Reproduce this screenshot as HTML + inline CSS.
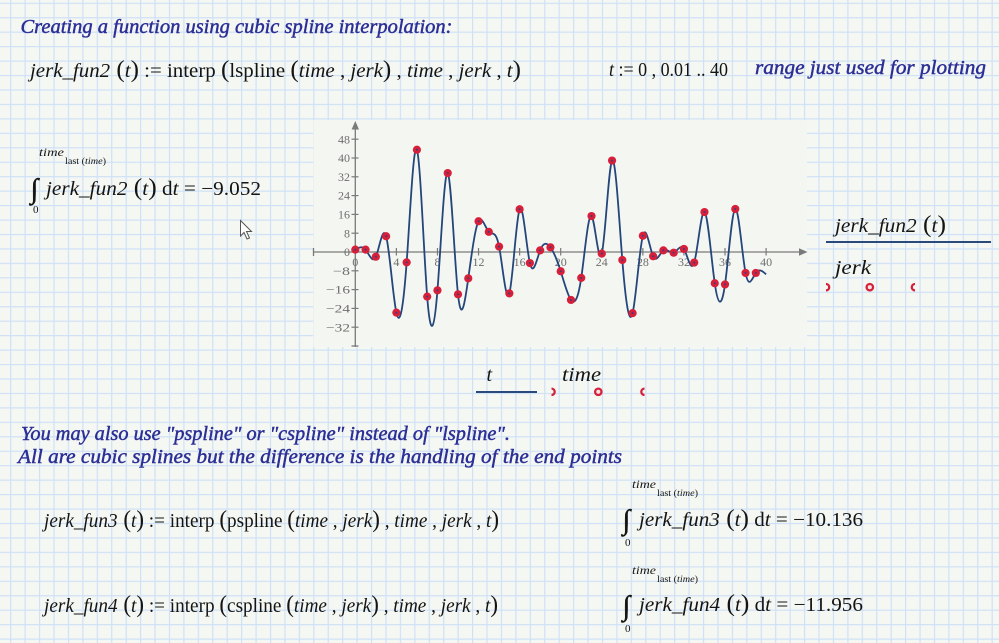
<!DOCTYPE html>
<html><head><meta charset="utf-8"><style>
html,body{margin:0;padding:0;background:#f5f7f3;}
svg{display:block;}
.m{font-family:"Liberation Serif","DejaVu Serif",serif;fill:#141414;}
.h{font-family:"Liberation Serif","DejaVu Serif",serif;font-style:italic;fill:#2b2f96;stroke:#2b2f96;stroke-width:0.45;}
.i{font-style:italic;}
.tk{font-family:"Liberation Serif","DejaVu Serif",serif;font-size:12px;fill:#6e6e6e;}
.int{font-family:"Liberation Serif","DejaVu Serif",serif;fill:#141414;stroke:#141414;stroke-width:0.5;}
</style></head><body>
<svg id="s" width="999" height="643" viewBox="0 0 999 643" xmlns="http://www.w3.org/2000/svg">
<defs>
<pattern id="grid" patternUnits="userSpaceOnUse" x="10.1" y="2.7" width="14.434" height="14.45">
<rect x="0" y="0" width="1.2" height="14.45" fill="#cfe1f6"/>
<rect x="0" y="0" width="14.434" height="1.2" fill="#cfe1f6"/>
</pattern>
</defs>
<rect width="999" height="643" fill="#f5f7f3"/>
<rect width="999" height="643" fill="url(#grid)"/>

<!-- heading -->
<text class="h" x="20.5" y="33" font-size="20" textLength="432" lengthAdjust="spacingAndGlyphs">Creating a function using cubic spline interpolation:</text>

<!-- formula 1 -->
<text class="m" x="30" y="77" font-size="20" textLength="491" lengthAdjust="spacingAndGlyphs"><tspan class="i">jerk_fun2</tspan><tspan font-size="24"> (</tspan><tspan class="i">t</tspan><tspan font-size="24">)</tspan> := interp <tspan font-size="24">(</tspan>lspline <tspan font-size="24">(</tspan><tspan class="i">time</tspan> , <tspan class="i">jerk</tspan><tspan font-size="24">)</tspan> , <tspan class="i">time</tspan> , <tspan class="i">jerk</tspan> , <tspan class="i">t</tspan><tspan font-size="24">)</tspan></text>

<text class="m" x="609" y="76" font-size="20" textLength="119" lengthAdjust="spacingAndGlyphs"><tspan class="i">t</tspan> := 0 , 0.01 .. 40</text>
<text class="h" x="755" y="74" font-size="20" textLength="231" lengthAdjust="spacingAndGlyphs">range just used for plotting</text>

<!-- integral 1 -->
<text class="m" x="39" y="156" font-size="12" font-style="italic" textLength="25" lengthAdjust="spacingAndGlyphs">time</text>
<text class="m" x="65" y="164" font-size="9" textLength="41" lengthAdjust="spacingAndGlyphs">last <tspan>(</tspan><tspan class="i">time</tspan>)</text>
<text class="int" x="30.5" y="198" font-size="28">∫</text>
<text class="m" x="46" y="195" font-size="20" textLength="215" lengthAdjust="spacingAndGlyphs"><tspan class="i">jerk_fun2</tspan><tspan font-size="24"> (</tspan><tspan class="i">t</tspan><tspan font-size="24">)</tspan> d<tspan class="i">t</tspan> = −9.052</text>
<text class="m" x="33" y="213" font-size="11">0</text>

<!-- cursor -->
<path d="M240.5,220.5 L240.5,236 L244,232.5 L247,239 L249.5,238 L246.5,231.5 L251.5,231.5 Z" fill="#fff" stroke="#555" stroke-width="1"/>

<!-- chart -->
<rect x="313.5" y="120" width="493.5" height="227" fill="#f4f6f2"/>
<g id="axes" stroke="#7a7a7a" stroke-width="1.3" fill="none">
<line x1="355.3" y1="128" x2="355.3" y2="347"/>
<line x1="313.5" y1="252" x2="800" y2="252"/>
<line x1="313.5" y1="248" x2="313.5" y2="256"/>
<line x1="351.5" y1="346" x2="358.5" y2="346"/>
</g>
<path d="M355.3,121 L351.6,129.5 L359,129.5 Z" fill="#7a7a7a"/>
<path d="M807.5,252 L799,248.3 L799,255.7 Z" fill="#7a7a7a"/>
<g id="ticks"></g>
<g class="tk" text-anchor="end">
<text x="350" y="143.3">48</text>
<text x="350" y="162.1">40</text>
<text x="350" y="180.9">32</text>
<text x="350" y="199.7">24</text>
<text x="350" y="218.5">16</text>
<text x="350" y="237.3">8</text>
<text x="350" y="256.1">0</text>
<text x="350" y="274.9" textLength="17" lengthAdjust="spacingAndGlyphs">−8</text>
<text x="350" y="293.7" textLength="24" lengthAdjust="spacingAndGlyphs">−16</text>
<text x="350" y="312.5" textLength="24" lengthAdjust="spacingAndGlyphs">−24</text>
<text x="350" y="331.3" textLength="24" lengthAdjust="spacingAndGlyphs">−32</text>
</g>
<g class="tk" text-anchor="middle">
<text x="355.3" y="266">0</text>
<text x="396.4" y="266">4</text>
<text x="437.5" y="266">8</text>
<text x="478.5" y="266">12</text>
<text x="519.6" y="266">16</text>
<text x="560.7" y="266">20</text>
<text x="601.8" y="266">24</text>
<text x="642.9" y="266">28</text>
<text x="684" y="266">32</text>
<text x="725" y="266">36</text>
<text x="766.1" y="266">40</text>
</g>
<path id="curve" d="" fill="none" stroke="#24467a" stroke-width="1.8" stroke-linejoin="round"/>
<g id="marks"></g>

<!-- legend right -->
<text class="m" x="835" y="232" font-size="20" textLength="111" lengthAdjust="spacingAndGlyphs"><tspan class="i">jerk_fun2</tspan><tspan font-size="24"> (</tspan><tspan class="i">t</tspan><tspan font-size="24">)</tspan></text>
<line x1="826" y1="242" x2="991" y2="242" stroke="#2b4a7c" stroke-width="2"/>
<text class="m" x="835" y="274" font-size="20" font-style="italic" textLength="36" lengthAdjust="spacingAndGlyphs">jerk</text>
<g fill="#f5e4e6" stroke="#d6203a" stroke-width="2.3">
<path d="M826,284 A3.2,3.2 0 0 1 826,290.4" fill="none"/>
<circle cx="869.8" cy="287.2" r="3.2"/>
<path d="M915,284 A3.2,3.2 0 0 0 915,290.4" fill="none"/>
</g>

<!-- legend below -->
<text class="m" x="486.5" y="381" font-size="20" font-style="italic">t</text>
<line x1="476" y1="392" x2="537" y2="392" stroke="#2b4a7c" stroke-width="2"/>
<text class="m" x="562" y="381" font-size="20" font-style="italic" textLength="39" lengthAdjust="spacingAndGlyphs">time</text>
<g fill="#f5e4e6" stroke="#d6203a" stroke-width="2.3">
<path d="M551.5,388.6 A3.2,3.2 0 0 1 551.5,395" fill="none"/>
<circle cx="598.3" cy="391.8" r="3.2"/>
<path d="M644.5,388.6 A3.2,3.2 0 0 0 644.5,395" fill="none"/>
</g>

<!-- notes -->
<text class="h" x="21" y="440" font-size="20" textLength="489" lengthAdjust="spacingAndGlyphs">You may also use "pspline" or "cspline" instead of "lspline".</text>
<text class="h" x="18" y="463" font-size="20" textLength="604" lengthAdjust="spacingAndGlyphs">All are cubic splines but the difference is the handling of the end points</text>

<!-- formula 3 -->
<text class="m" x="44" y="527" font-size="20" textLength="455" lengthAdjust="spacingAndGlyphs"><tspan class="i">jerk_fun3</tspan><tspan font-size="24"> (</tspan><tspan class="i">t</tspan><tspan font-size="24">)</tspan> := interp <tspan font-size="24">(</tspan>pspline <tspan font-size="24">(</tspan><tspan class="i">time</tspan> , <tspan class="i">jerk</tspan><tspan font-size="24">)</tspan> , <tspan class="i">time</tspan> , <tspan class="i">jerk</tspan> , <tspan class="i">t</tspan><tspan font-size="24">)</tspan></text>
<!-- formula 4 -->
<text class="m" x="44" y="612" font-size="20" textLength="454" lengthAdjust="spacingAndGlyphs"><tspan class="i">jerk_fun4</tspan><tspan font-size="24"> (</tspan><tspan class="i">t</tspan><tspan font-size="24">)</tspan> := interp <tspan font-size="24">(</tspan>cspline <tspan font-size="24">(</tspan><tspan class="i">time</tspan> , <tspan class="i">jerk</tspan><tspan font-size="24">)</tspan> , <tspan class="i">time</tspan> , <tspan class="i">jerk</tspan> , <tspan class="i">t</tspan><tspan font-size="24">)</tspan></text>

<!-- integral 3 -->
<text class="m" x="632" y="488" font-size="12" font-style="italic" textLength="24" lengthAdjust="spacingAndGlyphs">time</text>
<text class="m" x="657" y="496" font-size="9" textLength="41" lengthAdjust="spacingAndGlyphs">last (<tspan class="i">time</tspan>)</text>
<text class="int" x="622.5" y="529" font-size="28">∫</text>
<text class="m" x="639" y="526" font-size="20" textLength="224" lengthAdjust="spacingAndGlyphs"><tspan class="i">jerk_fun3</tspan><tspan font-size="24"> (</tspan><tspan class="i">t</tspan><tspan font-size="24">)</tspan> d<tspan class="i">t</tspan> = −10.136</text>
<text class="m" x="625" y="546" font-size="11">0</text>

<!-- integral 4 -->
<text class="m" x="632" y="574" font-size="12" font-style="italic" textLength="24" lengthAdjust="spacingAndGlyphs">time</text>
<text class="m" x="657" y="582" font-size="9" textLength="41" lengthAdjust="spacingAndGlyphs">last (<tspan class="i">time</tspan>)</text>
<text class="int" x="622.5" y="615" font-size="28">∫</text>
<text class="m" x="639" y="611" font-size="20" textLength="224" lengthAdjust="spacingAndGlyphs"><tspan class="i">jerk_fun4</tspan><tspan font-size="24"> (</tspan><tspan class="i">t</tspan><tspan font-size="24">)</tspan> d<tspan class="i">t</tspan> = −11.956</text>
<text class="m" x="625" y="632" font-size="11">0</text>
</svg>
<script>
(function(){
var NS="http://www.w3.org/2000/svg";
var Y=[1,1,-2,6.7,-25.8,-4.4,43.5,-19,-16.3,33.6,-18,-11.2,13.1,8.6,2.3,-17.6,18.2,-4.7,0.7,2,-8.2,-20.4,-11,15.3,-0.7,38.9,-3.4,-26,6.9,-1.8,0.7,-0.3,1.3,-4.5,17,-13.3,-13.8,18.3,-8.9,-8.9,-9.5];
var n=Y.length-1;
function px(t){return 355.3+10.27*t;}
function py(v){return 252-2.35*v;}
var M=new Array(n+1).fill(0);
var a=[],b=[],c=[],d=[];
for(var i=1;i<n;i++){a.push(1);b.push(4);c.push(1);d.push(6*(Y[i+1]-2*Y[i]+Y[i-1]));}
var m=d.length;
for(var i=1;i<m;i++){var w=a[i]/b[i-1];b[i]-=w*c[i-1];d[i]-=w*d[i-1];}
var x=new Array(m);
x[m-1]=d[m-1]/b[m-1];
for(var i=m-2;i>=0;i--){x[i]=(d[i]-c[i]*x[i+1])/b[i];}
for(var i=1;i<n;i++)M[i]=x[i-1];
var p="M"+px(0).toFixed(2)+","+py(Y[0]).toFixed(2);
for(var i=0;i<n;i++){
 var s=Y[i+1]-Y[i];
 var d0=s-(2*M[i]+M[i+1])/6;
 var d1=s+(M[i]+2*M[i+1])/6;
 p+=" C"+px(i+1/3).toFixed(2)+","+py(Y[i]+d0/3).toFixed(2)+" "+px(i+2/3).toFixed(2)+","+py(Y[i+1]-d1/3).toFixed(2)+" "+px(i+1).toFixed(2)+","+py(Y[i+1]).toFixed(2);
}
document.getElementById("curve").setAttribute("d",p);
var g=document.getElementById("marks");
for(var i=0;i<40;i++){
 var ci=document.createElementNS(NS,"circle");
 ci.setAttribute("cx",px(i));ci.setAttribute("cy",py(Y[i]));ci.setAttribute("r","4.1");ci.setAttribute("fill","#d81f3a");
 g.appendChild(ci);
 var cd=document.createElementNS(NS,"circle");
 cd.setAttribute("cx",px(i));cd.setAttribute("cy",py(Y[i]));cd.setAttribute("r","1");cd.setAttribute("fill","#3a3f78");
 g.appendChild(cd);
}
var tk=document.getElementById("ticks");
for(var v=-32;v<=48;v+=8){
 var l=document.createElementNS(NS,"line");
 l.setAttribute("x1","351.5");l.setAttribute("x2","358.5");l.setAttribute("y1",py(v));l.setAttribute("y2",py(v));
 l.setAttribute("stroke","#7a7a7a");l.setAttribute("stroke-width","1.2");tk.appendChild(l);
}
for(var t=4;t<=40;t+=4){
 var l=document.createElementNS(NS,"line");
 l.setAttribute("x1",px(t));l.setAttribute("x2",px(t));l.setAttribute("y1","248");l.setAttribute("y2","255.5");
 l.setAttribute("stroke","#7a7a7a");l.setAttribute("stroke-width","1.2");tk.appendChild(l);
}
})();
</script>
</body></html>
